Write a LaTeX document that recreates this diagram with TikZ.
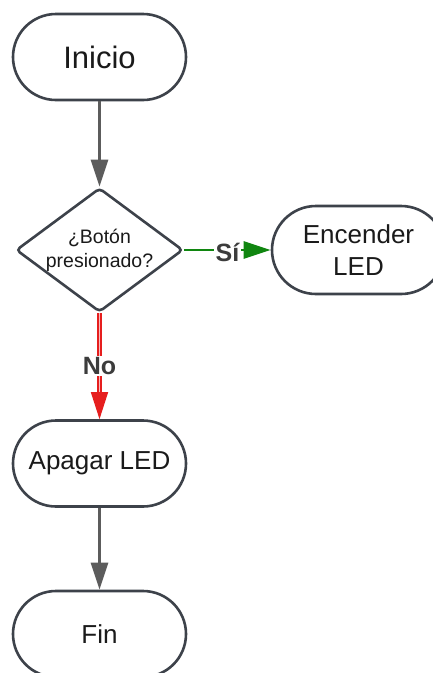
\documentclass[tikz,border=0pt]{standalone}
\usepackage{fontspec}
\setmainfont{Liberation Sans}
\usepackage{xcolor}
\usepackage{tikz}
\usetikzlibrary{arrows.meta,positioning,shapes.geometric}
\definecolor{flowEdge}{RGB}{61,66,74}
\definecolor{flowGray}{RGB}{92,92,92}
\definecolor{flowGreen}{RGB}{16,134,16}
\definecolor{flowRed}{RGB}{230,30,30}
\definecolor{flowText}{RGB}{26,26,26}

\begin{document}
\begin{tikzpicture}[x=1pt, y=-1pt,
  term/.style={draw=flowEdge, line width=2.6pt, fill=white, rounded corners=43pt,
    minimum width=173pt, minimum height=86pt, text=flowText, align=center,
    font=\fontsize{26}{32}\selectfont},
  decision/.style={draw=flowEdge, line width=2.6pt, fill=white, diamond, aspect=1.35,
    rounded corners=4pt, minimum width=167pt, minimum height=124pt, inner sep=0pt,
    text=flowText, align=center, font=\fontsize{19.5}{24}\selectfont},
  flow/.style={line width=2.8pt, -{Triangle[length=27pt,width=17pt]}},
  lab/.style={fill=white, inner sep=1.5pt, text=flowText!85, font=\bfseries\fontsize{25}{28}\selectfont}]
\clip (0,0) rectangle (433,673);
\fill[white] (0,0) rectangle (433,673);

\node[term, font=\fontsize{31}{36}\selectfont] (inicio) at (99.5,57) {Inicio};
\node[decision] (boton) at (99.5,250) {¿Botón\\presionado?};
\node[term, minimum height=88pt, rounded corners=44pt] (encender) at (358.5,250) {Encender\\LED};
\node[term] (apagar) at (99.5,463.5) {Apagar LED};
\node[term] (fin) at (99.5,634) {Fin};

\draw[flow, flowGray] (inicio) -- (boton);
\draw[flow, flowGreen] (boton) -- node[lab, yshift=-2pt] {Sí} (encender);
\draw[flow, draw=flowRed, line width=1.4pt, double=flowRed!30, double distance=1.8pt]
  (boton) -- node[lab] {No} (apagar);
\draw[flow, flowGray] (apagar) -- (fin);
\end{tikzpicture}
\end{document}
